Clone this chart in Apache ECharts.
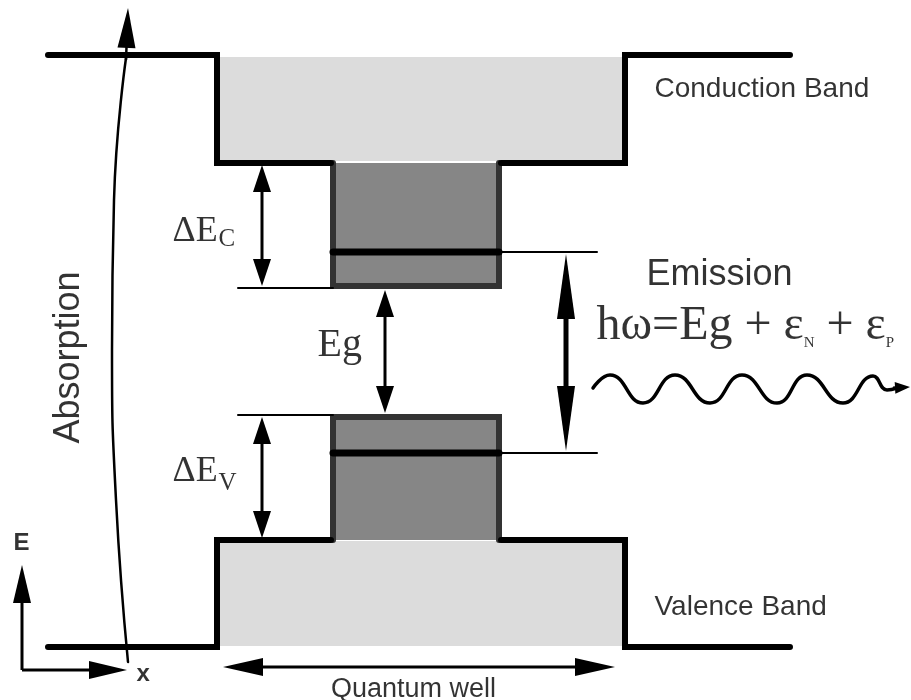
<!DOCTYPE html>
<html>
<head>
<meta charset="utf-8">
<script src="https://cdn.jsdelivr.net/npm/echarts@6/dist/echarts.min.js"></script>
<style>html,body{margin:0;padding:0;background:#fff}#chart{width:911px;height:700px}</style>
</head>
<body>
<div id="chart"></div>
<script>
// ---- diagram data (x to the right, energy drawn on an inverted axis) ----
const bandFillRects = [[220, 57, 623, 161], [220, 541, 623, 646]];
const wellFillRects = [[331, 163, 501, 288], [331, 415, 501, 540]];
const conductionEdgeLeft = [[48, 55], [217, 55], [217, 163], [331, 163]];
const conductionEdgeRight = [[501, 163], [625, 163], [625, 55], [790, 55]];
const valenceEdgeLeft = [[48, 647], [217, 647], [217, 540], [331, 540]];
const valenceEdgeRight = [[501, 540], [625, 540], [625, 647], [790, 647]];
const wellBorderUpper = [[333, 163], [333, 286], [499, 286], [499, 163]];
const wellBorderLower = [[333, 540], [333, 417], [499, 417], [499, 540]];
const confinedLevelUpper = [[333, 252], [499, 252]];
const confinedLevelLower = [[333, 453], [499, 453]];
const refLineUpperLeft = [[238, 288], [333, 288]];
const refLineUpperRight = [[499, 252], [597, 252]];
const refLineLowerLeft = [[238, 415], [333, 415]];
const refLineLowerRight = [[499, 453], [597, 453]];
const offsetArrows = [[262, 165, 262, 286], [385, 290, 385, 413], [262, 417, 262, 538]];
const emissionArrow = [[566, 254, 566, 451]];
const quantumWellArrow = [[223, 667, 615, 667]];
const axisArrows = [[22, 670, 22, 565], [22, 670, 127, 670]];
const absorptionPath = [[128, 662], [116, 500], [112, 350], [114, 200], [126, 58]];
const absorptionHead = [[126, 60, 128, 8]];
const photonWave = [[593, 388], [610, 375], [643, 403], [675, 375], [710, 403], [742, 375], [777, 403], [807, 375], [843, 403], [873, 376], [887, 390], [897, 388]];
const photonHead = [[893, 388, 910, 387]];
const bandNames = ['Conduction Band', 'Valence Band'];
const labelTexts = ['Emission', 'Absorption', 'Quantum well', 'E', 'x'];

const SANS = 'Liberation Sans';
const SERIF = 'Liberation Serif';

function poly(data, color, width, z, smooth) {
  return {type: 'line', data: data, symbol: 'none', smooth: smooth || false, silent: true, z: z,
    lineStyle: {color: color, width: width, cap: 'round', join: 'miter'}, animation: false};
}
function rects(data, color, z) {
  return {type: 'custom', data: data, silent: true, z: z, animation: false,
    encode: {x: [0, 2], y: [1, 3]},
    renderItem: function (params, api) {
      const a = api.coord([api.value(0), api.value(1)]);
      const b = api.coord([api.value(2), api.value(3)]);
      return {type: 'rect', shape: {x: Math.min(a[0], b[0]), y: Math.min(a[1], b[1]),
        width: Math.abs(b[0] - a[0]), height: Math.abs(b[1] - a[1])}, style: {fill: color}};
    }};
}
function arrows(data, o) {
  return {type: 'custom', data: data, silent: true, z: o.z || 6, animation: false,
    encode: {x: [0, 2], y: [1, 3]},
    renderItem: function (params, api) {
      const a = api.coord([api.value(0), api.value(1)]);
      const b = api.coord([api.value(2), api.value(3)]);
      const dx = b[0] - a[0], dy = b[1] - a[1], L = Math.hypot(dx, dy);
      const ux = dx / L, uy = dy / L, nx = -uy, ny = ux;
      const head = function (tip, sx, sy) {
        const bx = tip[0] - sx * o.len, by = tip[1] - sy * o.len;
        return {type: 'polygon', shape: {points: [tip, [bx + nx * o.half, by + ny * o.half], [bx - nx * o.half, by - ny * o.half]]},
          style: {fill: o.color || '#000'}};
      };
      const s = o.double ? [a[0] + ux * o.len * 0.7, a[1] + uy * o.len * 0.7] : a;
      const e = [b[0] - ux * o.len * 0.7, b[1] - uy * o.len * 0.7];
      const children = [{type: 'line', shape: {x1: s[0], y1: s[1], x2: e[0], y2: e[1]},
        style: {stroke: o.color || '#000', lineWidth: o.width}}];
      children.push(head(b, ux, uy));
      if (o.double) children.push(head(a, -ux, -uy));
      return {type: 'group', children: children};
    }};
}
function text(x, y, formatter, labelOpt) {
  return {type: 'scatter', data: [[x, y]], symbolSize: 1, silent: true, z: 10, animation: false,
    itemStyle: {color: 'rgba(0,0,0,0)'},
    label: Object.assign({show: true, position: [0, 0], formatter: formatter, align: 'left',
      verticalAlign: 'middle', color: '#000'}, labelOpt)};
}

const chart = echarts.init(document.getElementById('chart'));
chart.setOption({
  backgroundColor: '#fff',
  animation: false,
  grid: {left: 0, right: 0, top: 0, bottom: 0},
  xAxis: {type: 'value', min: 0, max: 911, show: false},
  yAxis: {type: 'value', min: 0, max: 700, inverse: true, show: false},
  series: [
    rects(bandFillRects, '#dcdcdc', 1),
    rects(wellFillRects, '#868686', 2),
    poly(conductionEdgeLeft, '#000', 6, 4),
    poly(conductionEdgeRight, '#000', 6, 4),
    poly(valenceEdgeLeft, '#000', 6, 4),
    poly(valenceEdgeRight, '#000', 6, 4),
    poly(wellBorderUpper, '#333', 6, 3),
    poly(wellBorderLower, '#333', 6, 3),
    poly(confinedLevelUpper, '#000', 7, 4),
    poly(confinedLevelLower, '#000', 7, 4),
    poly(refLineUpperLeft, '#000', 2, 3),
    poly(refLineUpperRight, '#000', 2, 3),
    poly(refLineLowerLeft, '#000', 2, 3),
    poly(refLineLowerRight, '#000', 2, 3),
    arrows(offsetArrows, {len: 27, half: 9, width: 3, double: true}),
    arrows(emissionArrow, {len: 65, half: 9, width: 5, double: true}),
    arrows(quantumWellArrow, {len: 40, half: 9, width: 3, double: true}),
    arrows(axisArrows, {len: 38, half: 9, width: 3}),
    poly(absorptionPath, '#000', 2.5, 5, 0.5),
    arrows(absorptionHead, {len: 40, half: 9, width: 2.5}),
    poly(photonWave, '#000', 3.5, 5, 0.5),
    arrows(photonHead, {len: 15, half: 6, width: 3}),
    text(655, 90, bandNames[0], {fontFamily: SANS, fontSize: 28}),
    text(655, 608, bandNames[1], {fontFamily: SANS, fontSize: 28}),
    text(647, 276, labelTexts[0], {fontFamily: SANS, fontSize: 36}),
    text(70, 358, labelTexts[1], {fontFamily: SANS, fontSize: 36, rotate: 90, align: 'center'}),
    text(414, 690, labelTexts[2], {fontFamily: SANS, fontSize: 27, align: 'center'}),
    text(14, 544, labelTexts[3], {fontFamily: SANS, fontSize: 24, fontWeight: 'bold'}),
    text(137, 675, labelTexts[4], {fontFamily: SANS, fontSize: 24, fontWeight: 'bold'}),
    text(173, 232, 'ΔE', {fontFamily: SERIF, fontSize: 36}),
    text(219, 240, 'C', {fontFamily: SERIF, fontSize: 25}),
    text(173, 472, 'ΔE', {fontFamily: SERIF, fontSize: 36}),
    text(219, 484, 'V', {fontFamily: SERIF, fontSize: 25}),
    text(318, 346, 'Eg', {fontFamily: SERIF, fontSize: 40}),
    text(597, 327, '{m|hω=Eg + ε}{s|N}{m| + ε}{s|P}', {
      rich: {
        m: {fontFamily: SERIF, fontSize: 48, color: '#000'},
        s: {fontFamily: SERIF, fontSize: 15, lineHeight: 26, verticalAlign: 'bottom', color: '#000'}
      }
    })
  ]
});
</script>
</body>
</html>
